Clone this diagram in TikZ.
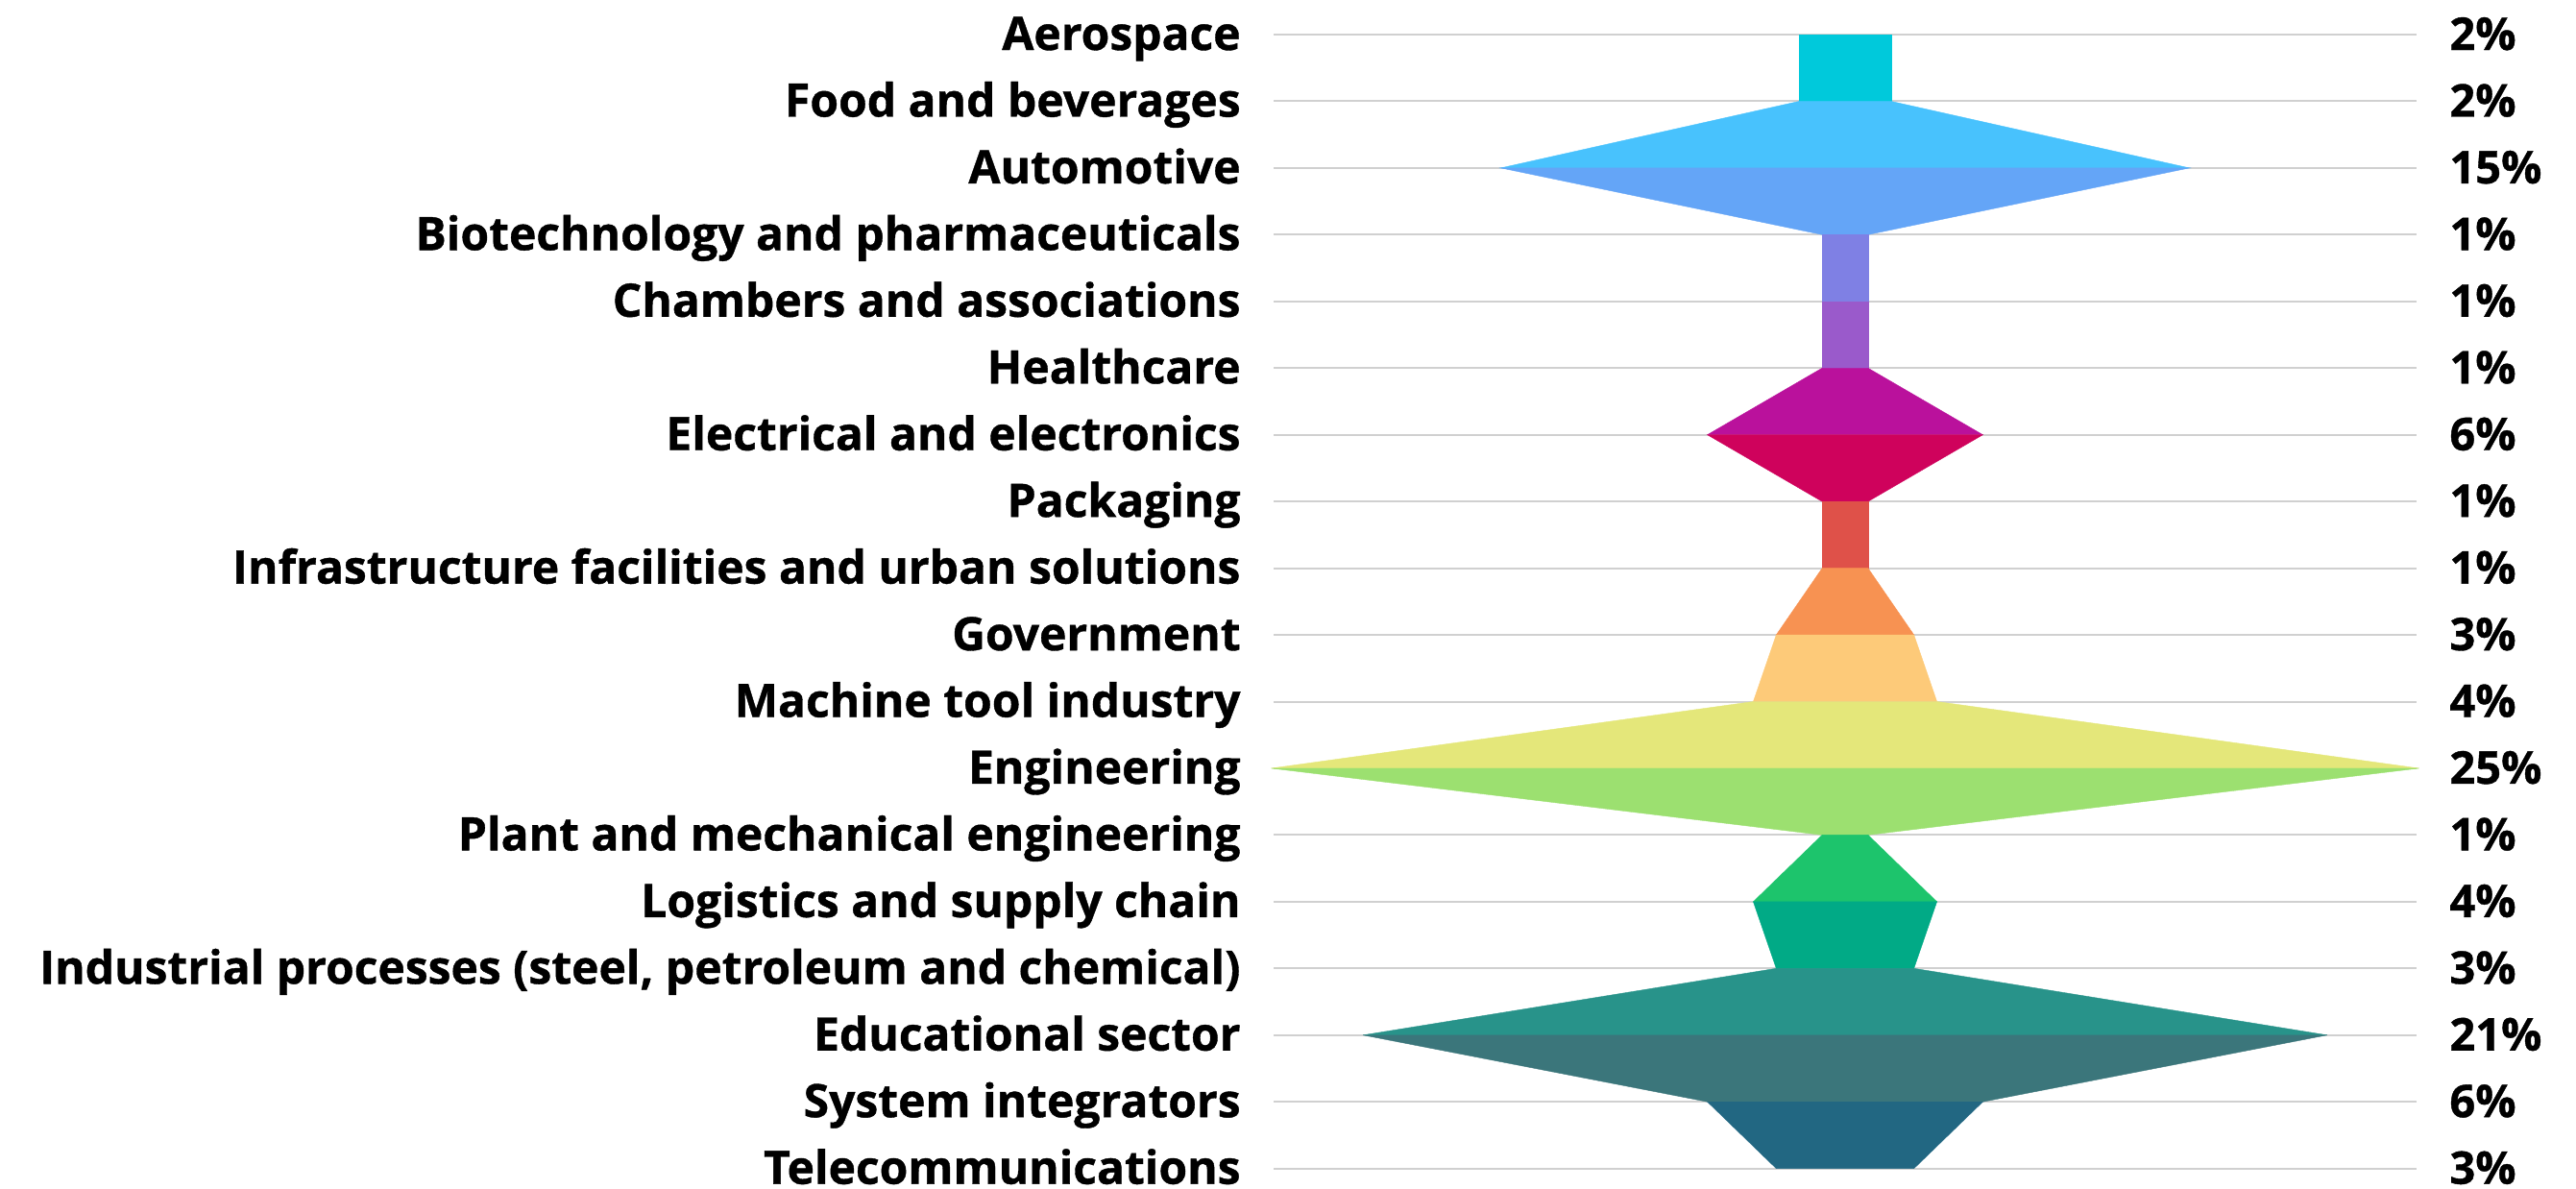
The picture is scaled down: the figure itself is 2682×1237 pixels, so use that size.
\documentclass[tikz,border=0pt]{standalone}
\usepackage{fontspec}
\setmainfont{Open Sans}[BoldFeatures={FakeBold=0.8}]
\usepackage{tikz}

\definecolor{bandA}{HTML}{00C9DB}
\definecolor{bandB}{HTML}{48C2FD}
\definecolor{bandC}{HTML}{64A5F7}
\definecolor{bandD}{HTML}{7F80E4}
\definecolor{bandE}{HTML}{9A5ACB}
\definecolor{bandF}{HTML}{BA119C}
\definecolor{bandG}{HTML}{CF025C}
\definecolor{bandH}{HTML}{DF5149}
\definecolor{bandI}{HTML}{F79252}
\definecolor{bandJ}{HTML}{FDCA79}
\definecolor{bandK}{HTML}{E4E77A}
\definecolor{bandL}{HTML}{9CE070}
\definecolor{bandM}{HTML}{1DC46C}
\definecolor{bandN}{HTML}{01AA86}
\definecolor{bandO}{HTML}{28938A}
\definecolor{bandP}{HTML}{3B767B}
\definecolor{bandQ}{HTML}{226782}
\definecolor{gridgray}{HTML}{D0D0D0}

\begin{document}
\begin{tikzpicture}[x=0.5pt,y=-0.5pt,
	sector/.style={font=\fontsize{24}{27}\selectfont\bfseries, inner sep=0pt, anchor=base east},
	share/.style={font=\fontsize{23.5}{27}\selectfont\bfseries, inner sep=0pt, anchor=base west}]
	\useasboundingbox (0,0) rectangle (2682,1237);

	% grid lines
	\foreach \i in {0,...,17}
		\draw[line width=1pt,gridgray] (1326, {36+69.45*\i}) -- (2516, {36+69.45*\i});

	% funnel bands
	\foreach \a/\b/\c [count=\i from 0] in {2/2/bandA, 2/15/bandB, 15/1/bandC, 1/1/bandD, 1/1/bandE, 1/6/bandF, 6/1/bandG, 1/1/bandH, 1/3/bandI, 3/4/bandJ, 4/25/bandK, 25/1/bandL, 1/4/bandM, 4/3/bandN, 3/21/bandO, 21/6/bandP, 6/3/bandQ}
		\fill[\c, draw=\c, line width=0.2pt] ({1921-23.9*\a}, {36+69.45*\i}) -- ({1921+23.9*\a}, {36+69.45*\i})
			-- ({1921+23.9*\b}, {36+69.45*(\i+1)}) -- ({1921-23.9*\b}, {36+69.45*(\i+1)}) -- cycle;

	% labels
	\foreach \lab/\pct [count=\i from 0] in {Aerospace/2, Food and beverages/2, Automotive/15,
		Biotechnology and pharmaceuticals/1, Chambers and associations/1, Healthcare/1,
		Electrical and electronics/6, Packaging/1, Infrastructure facilities and urban solutions/1,
		Government/3, Machine tool industry/4, Engineering/25, Plant and mechanical engineering/1,
		Logistics and supply chain/4, {Industrial processes (steel, petroleum and chemical)}/3,
		Educational sector/21, System integrators/6, Telecommunications/3}
	{
		\node[sector] (lab\i) at (1292, {52+69.45*\i}) {\lab};
		\node[share] (pct\i) at (2550, {52+69.45*\i}) {\pct\%};
	}
\end{tikzpicture}
\end{document}
